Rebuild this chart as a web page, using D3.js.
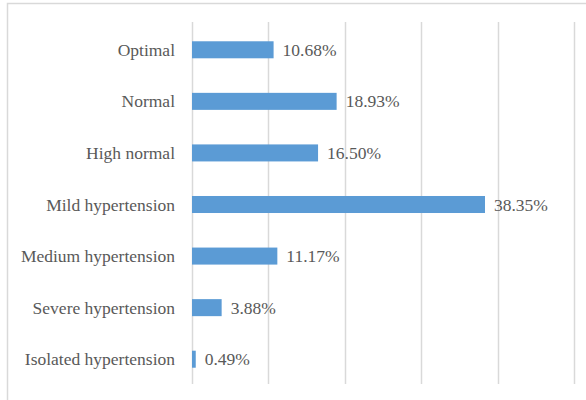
<!DOCTYPE html>
<html><head><meta charset="utf-8">
<script src="https://cdn.jsdelivr.net/npm/d3@7"></script>
<style>html,body{margin:0;padding:0;background:#fff;}svg{display:block;}</style>
</head><body>
<svg id="c" width="586" height="400"></svg>
<script>
const categories = ["Optimal","Normal","High normal","Mild hypertension","Medium hypertension","Severe hypertension","Isolated hypertension"];
const values = [10.68, 18.93, 16.50, 38.35, 11.17, 3.88, 0.49];
const valueLabels = ["10.68%","18.93%","16.50%","38.35%","11.17%","3.88%","0.49%"];
const xTicks = [0,10,20,30,40,50];

const svg = d3.select("#c");
// chart border
svg.append("rect").attr("x",7.5).attr("y",3.5).attr("width",600).attr("height",420)
  .attr("fill","#fff").attr("stroke","#d9d9d9").attr("stroke-width",1.5);

const x = d3.scaleLinear().domain([0,50]).range([192,574]);
const y = d3.scaleBand().domain(categories).range([24,385]).paddingInner(0.67).paddingOuter(0.335);

// gridlines
svg.append("g").selectAll("line").data(xTicks).join("line")
  .attr("x1",d=>Math.round(x(d))+0.5).attr("x2",d=>Math.round(x(d))+0.5)
  .attr("y1",22).attr("y2",384)
  .attr("stroke","#d9d9d9").attr("stroke-width",1.5);

// bars
svg.append("g").selectAll("rect").data(values).join("rect")
  .attr("x",x(0)).attr("y",(d,i)=>y(categories[i]))
  .attr("width",d=>x(d)-x(0)).attr("height",y.bandwidth())
  .attr("fill","#5b9bd5");

// category labels
const font = "'Liberation Serif','Times New Roman',serif";
svg.append("g").selectAll("text").data(categories).join("text")
  .attr("x",175).attr("y",d=>y(d)+y.bandwidth()/2).attr("dy","0.35em")
  .attr("text-anchor","end").attr("font-family",font).attr("font-size",17.5)
  .attr("fill","#595959").text(d=>d);

// value labels
svg.append("g").selectAll("text").data(values).join("text")
  .attr("x",d=>x(d)+9).attr("y",(d,i)=>y(categories[i])+y.bandwidth()/2).attr("dy","0.35em")
  .attr("text-anchor","start").attr("font-family",font).attr("font-size",17.5)
  .attr("fill","#595959").text((d,i)=>valueLabels[i]);
</script>
</body></html>
